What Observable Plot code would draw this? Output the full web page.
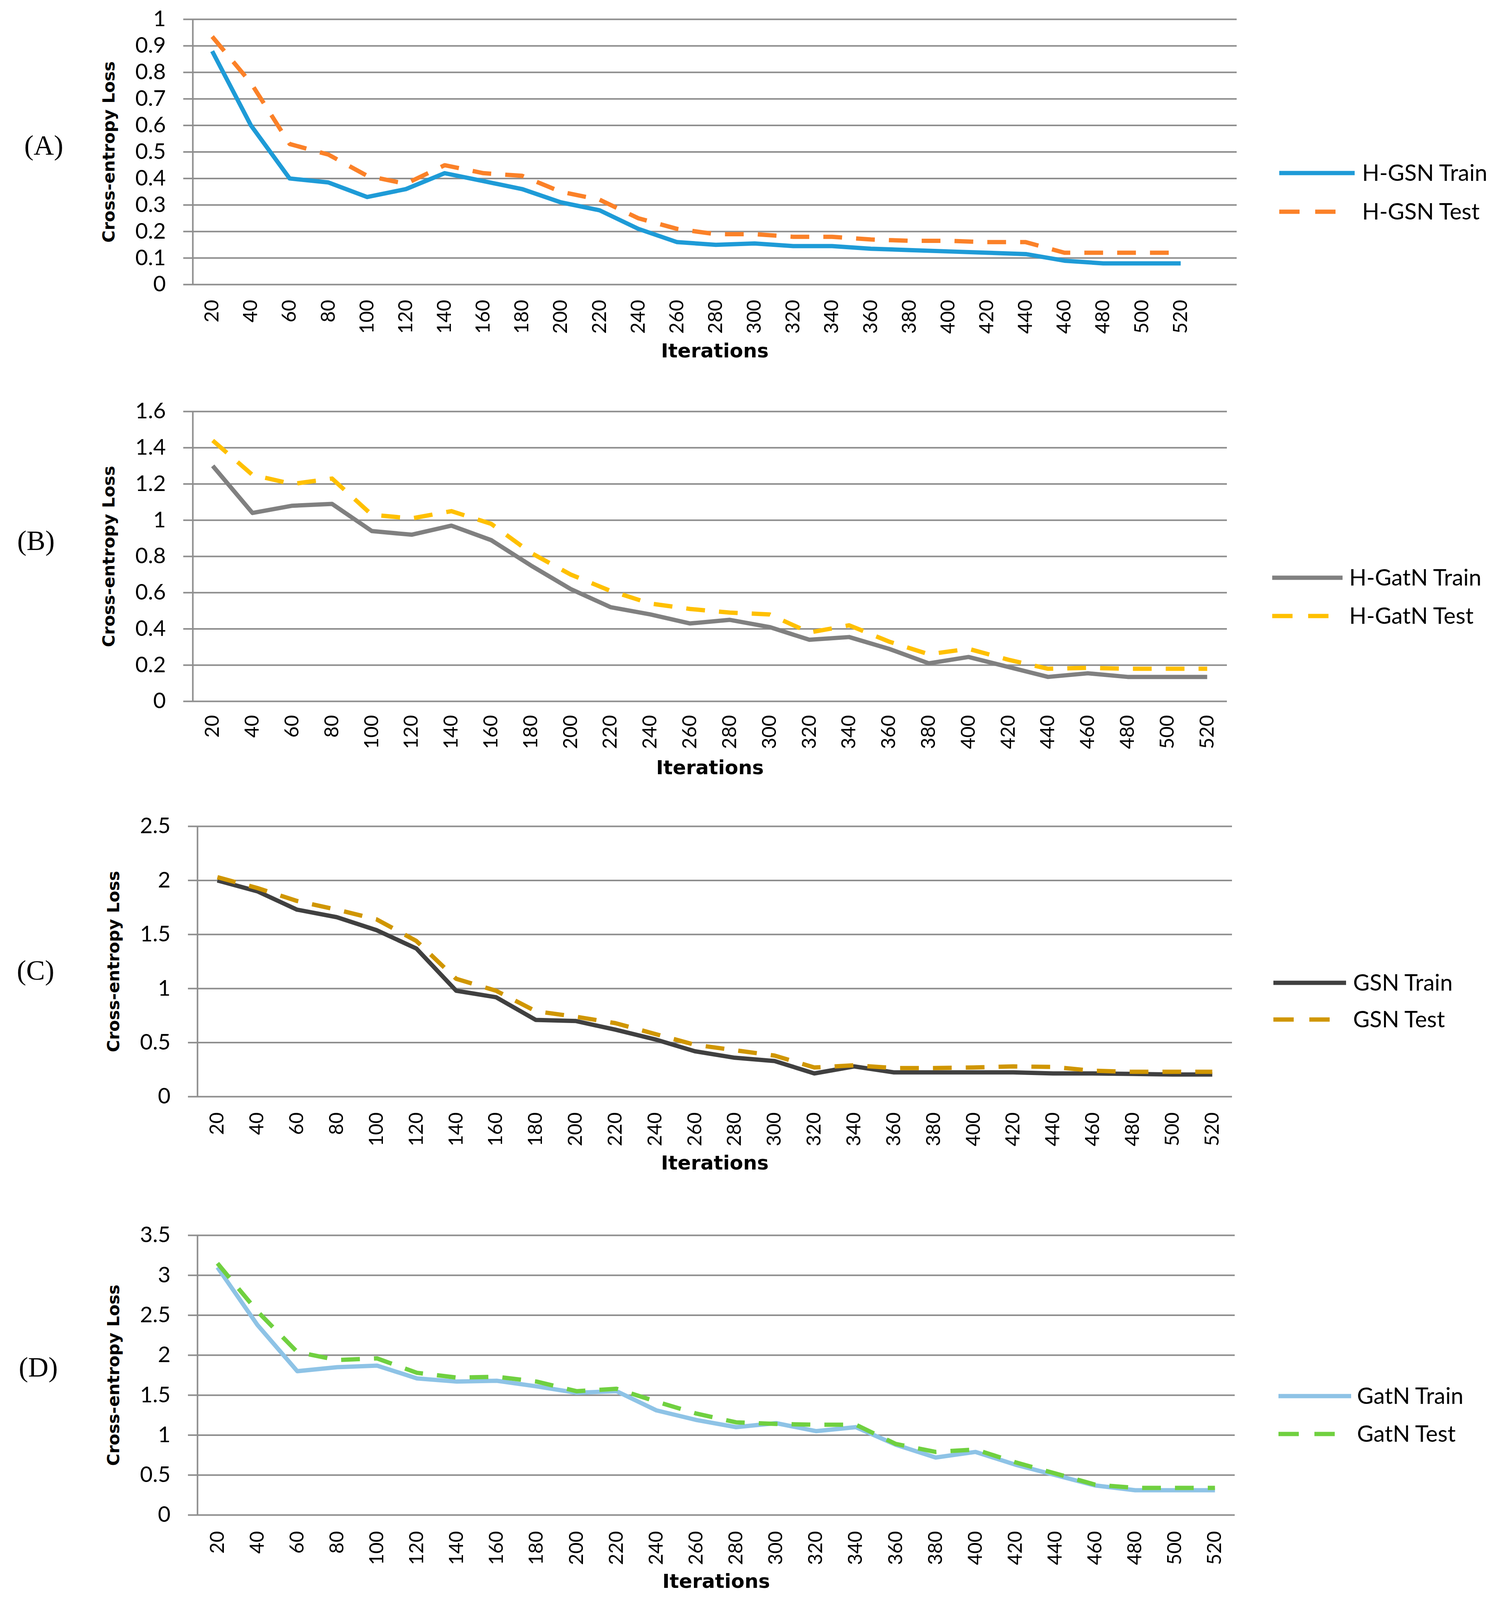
<!DOCTYPE html>
<html><head><meta charset="utf-8">
<script src="https://cdn.jsdelivr.net/npm/d3@7"></script>
<script src="https://cdn.jsdelivr.net/npm/@observablehq/plot@0.6"></script>
<style>
html,body{margin:0;padding:0;background:#fff;overflow:hidden}
#root{position:relative;width:3862px;overflow:hidden;background:#fff}
.panel{position:absolute;left:0;width:3862px}
.plabel{position:absolute;font-family:"Liberation Serif","Times New Roman",serif;line-height:1;transform:translate(-50%,-50%);white-space:nowrap;color:#000}
.legend{position:absolute;left:0;top:0;overflow:visible}
</style></head>
<body><div id="root"></div>
<script>
// ---- data ----
const iterations = [20,40,60,80,100,120,140,160,180,200,220,240,260,280,300,320,340,360,380,400,420,440,460,480,500,520];
const hgsnTrain  = [0.88,0.60,0.40,0.385,0.33,0.36,0.42,0.39,0.36,0.31,0.28,0.21,0.16,0.15,0.155,0.145,0.145,0.135,0.13,0.125,0.12,0.115,0.09,0.08,0.08,0.08];
const hgsnTest   = [0.935,0.76,0.53,0.49,0.41,0.38,0.45,0.42,0.41,0.35,0.32,0.25,0.21,0.19,0.19,0.18,0.18,0.17,0.165,0.165,0.16,0.16,0.12,0.12,0.12,0.12];
const hgatnTrain = [1.30,1.04,1.08,1.09,0.94,0.92,0.97,0.89,0.75,0.62,0.52,0.48,0.43,0.45,0.41,0.34,0.355,0.29,0.21,0.245,0.19,0.135,0.155,0.135,0.135,0.135];
const hgatnTest  = [1.44,1.25,1.20,1.23,1.03,1.01,1.05,0.98,0.82,0.70,0.61,0.54,0.51,0.49,0.48,0.38,0.42,0.33,0.26,0.29,0.23,0.18,0.185,0.18,0.18,0.18];
const gsnTrain   = [2.00,1.90,1.73,1.66,1.54,1.37,0.98,0.92,0.71,0.70,0.62,0.53,0.42,0.36,0.33,0.215,0.28,0.225,0.225,0.225,0.225,0.215,0.215,0.21,0.205,0.205];
const gsnTest    = [2.03,1.93,1.81,1.73,1.64,1.44,1.09,0.98,0.79,0.74,0.68,0.58,0.48,0.43,0.38,0.27,0.29,0.265,0.265,0.27,0.28,0.275,0.24,0.23,0.23,0.23];
const gatnTrain  = [3.10,2.38,1.80,1.85,1.87,1.71,1.67,1.68,1.61,1.53,1.55,1.31,1.19,1.10,1.15,1.05,1.10,0.88,0.72,0.79,0.63,0.50,0.37,0.31,0.31,0.31];
const gatnTest   = [3.15,2.55,2.04,1.94,1.96,1.78,1.72,1.73,1.67,1.55,1.58,1.42,1.27,1.16,1.14,1.13,1.13,0.89,0.79,0.82,0.66,0.52,0.38,0.34,0.34,0.34];

const yTicksA = [0,0.1,0.2,0.3,0.4,0.5,0.6,0.7,0.8,0.9,1];
const yTicksB = [0,0.2,0.4,0.6,0.8,1,1.2,1.4,1.6];
const yTicksC = [0,0.5,1,1.5,2,2.5];
const yTicksD = [0,0.5,1,1.5,2,2.5,3,3.5];

const panelLabels = ["(A)","(B)","(C)","(D)"];
const seriesNames = [["H-GSN Train","H-GSN Test"],["H-GatN Train","H-GatN Test"],["GSN Train","GSN Test"],["GatN Train","GatN Test"]];
const yTitle = "Cross-entropy Loss";
const xTitle = "Iterations";

// ---- layout / style (vertical values in reference pixels, scaled to the visible window height) ----
const W = 3862, REF_H = 5313;
const S = Math.min(1, (window.innerHeight || REF_H) / REF_H);
const GRID = "#8e8e8e";
const panels = [
  {train: hgsnTrain, test: hgsnTest, ticks: yTicksA, colors: ["#1e9bd7","#fb8128"],
   top: 0, height: 1300, mt: 64, fb: 944, ml: 493, fr: 3165, xd: [10, 549], pad: 51,
   label: [112, 483], leg: {x1: 3274, x2: 3467, y: [574, 703], tx: 3486}},
  {train: hgatnTrain, test: hgatnTest, ticks: yTicksB, colors: ["#808080","#ffc000"],
   top: 1300, height: 1350, mt: 66, fb: 1028, ml: 493, fr: 3140, xd: [10, 530], pad: 46,
   label: [92, 1795], leg: {x1: 3256, x2: 3436, y: [1918, 2045], tx: 3453}},
  {train: gsnTrain, test: gsnTest, ticks: yTicksC, colors: ["#404040","#d09600"],
   top: 2650, height: 1350, mt: 93, fb: 991, ml: 505, fr: 3153, xd: [10, 530], pad: 52,
   label: [91, 3222], leg: {x1: 3259, x2: 3445, y: [3263, 3385], tx: 3463}},
  {train: gatnTrain, test: gatnTest, ticks: yTicksD, colors: ["#8ec3e6","#70d040"],
   top: 4000, height: 1313, mt: 101, fb: 1030, ml: 505, fr: 3160, xd: [10, 530], pad: 53,
   label: [98, 4540], leg: {x1: 3272, x2: 3458, y: [4636, 4762], tx: 3473}}
];

const root = document.getElementById("root");
root.style.height = Math.floor(REF_H * S) + "px";
const titleFont = "DejaVu Sans, Verdana, sans-serif";
const bodyFont = "Lato, 'Open Sans', sans-serif";

panels.forEach((p, pi) => {
  const rows = iterations.map((it, i) => ({iter: it, train: p.train[i], test: p.test[i]}));
  const yMax = p.ticks[p.ticks.length - 1];
  const H = Math.round(p.height * S);
  const mt = Math.round(p.mt * S);
  const mb = H - Math.round(p.fb * S);
  const chart = Plot.plot({
    width: W, height: H,
    marginTop: mt, marginBottom: mb,
    marginLeft: p.ml, marginRight: W - p.fr,
    style: {fontFamily: bodyFont, fontSize: "56px", background: "transparent", color: "#000", overflow: "visible"},
    x: {type: "linear", domain: p.xd},
    y: {type: "linear", domain: [0, yMax]},
    marks: [
      Plot.gridY(p.ticks, {stroke: GRID, strokeWidth: 4, strokeOpacity: 1}),
      Plot.ruleX([p.xd[0]], {stroke: GRID, strokeWidth: 4}),
      Plot.axisY({ticks: p.ticks, tickSize: 24, tickPadding: 45, stroke: GRID, strokeWidth: 4, strokeOpacity: 1,
                  fill: "#000", fontSize: 56, tickFormat: d => String(d), label: null}),
      Plot.axisX({ticks: iterations, tickSize: 0, tickPadding: Math.round(p.pad * S), tickRotate: -90, textAnchor: "end", lineAnchor: "middle",
                  fill: "#000", fontSize: 50, tickFormat: d => String(d), label: null}),
      Plot.line(rows, {x: "iter", y: "train", stroke: p.colors[0], strokeWidth: 11, strokeLinecap: "butt", strokeLinejoin: "round"}),
      Plot.line(rows, {x: "iter", y: "test", stroke: p.colors[1], strokeWidth: 11, strokeDasharray: "48,36", strokeLinecap: "butt", strokeLinejoin: "round"}),
      Plot.text([xTitle], {frameAnchor: "bottom", dy: Math.round(220 * S), textAnchor: "middle", lineAnchor: "middle",
                 fontFamily: titleFont, fontWeight: "bold", fontSize: 50, fill: "#000"}),
      Plot.text([yTitle], {frameAnchor: "left", dx: -214, rotate: -90, textAnchor: "middle", lineAnchor: "middle",
                 fontFamily: titleFont, fontWeight: "bold", fontSize: 43, fill: "#000"})
    ]
  });
  const wrap = document.createElement("div");
  wrap.className = "panel";
  wrap.style.top = Math.round(p.top * S) + "px";
  wrap.style.height = H + "px";
  wrap.appendChild(chart);
  root.appendChild(wrap);

  const lab = document.createElement("div");
  lab.className = "plabel";
  lab.style.left = p.label[0] + "px";
  lab.style.top = Math.round(p.label[1] * S) + "px";
  lab.style.fontSize = "72px";
  lab.textContent = panelLabels[pi];
  root.appendChild(lab);

  const ns = "http://www.w3.org/2000/svg";
  const svg = document.createElementNS(ns, "svg");
  svg.setAttribute("class", "legend");
  svg.setAttribute("width", W);
  svg.setAttribute("height", Math.floor(REF_H * S));
  svg.style.pointerEvents = "none";
  [0, 1].forEach(k => {
    const y = Math.round(p.leg.y[k] * S);
    const ln = document.createElementNS(ns, "line");
    ln.setAttribute("x1", p.leg.x1);
    ln.setAttribute("x2", k === 0 ? p.leg.x2 : p.leg.x1 + 52 + 40 + 52);
    ln.setAttribute("y1", y); ln.setAttribute("y2", y);
    ln.setAttribute("stroke", p.colors[k]);
    ln.setAttribute("stroke-width", 11);
    if (k === 1) ln.setAttribute("stroke-dasharray", "52,40");
    svg.appendChild(ln);
    const t = document.createElementNS(ns, "text");
    t.setAttribute("x", p.leg.tx);
    t.setAttribute("y", y + 20);
    t.setAttribute("font-family", bodyFont);
    t.setAttribute("font-size", 58);
    t.setAttribute("fill", "#000");
    t.textContent = seriesNames[pi][k];
    svg.appendChild(t);
  });
  root.appendChild(svg);
});
</script>
</body></html>
